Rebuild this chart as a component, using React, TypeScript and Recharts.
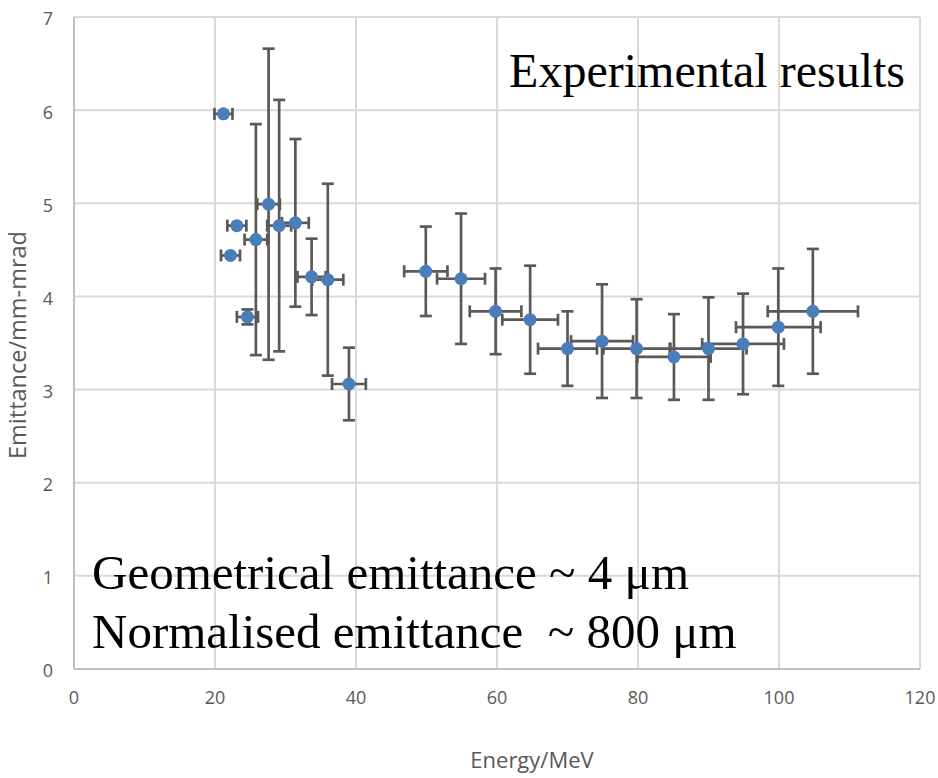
import { ScatterChart, Scatter, XAxis, YAxis, CartesianGrid, ErrorBar } from "recharts"

const energy = [21.2, 22.2, 23.1, 24.6, 25.8, 27.6, 29.1, 31.4, 33.7, 36.0, 39.0, 49.9, 54.9, 59.8, 64.7, 70.0, 74.9, 79.8, 85.1, 90.0, 94.9, 99.9, 104.8]
const emittance = [5.96, 4.44, 4.76, 3.78, 4.61, 4.99, 4.76, 4.79, 4.21, 4.18, 3.06, 4.27, 4.19, 3.84, 3.75, 3.44, 3.52, 3.44, 3.35, 3.44, 3.49, 3.67, 3.84]
const energyErr = [1.28, 1.35, 1.35, 1.5, 1.6, 1.6, 1.7, 1.9, 2.0, 2.2, 2.4, 3.07, 3.4, 3.66, 3.95, 4.18, 4.4, 4.7, 5.2, 5.4, 5.8, 6.0, 6.4]
const emittanceErr = [0, 0, 0, 0.08, 1.24, 1.67, 1.35, 0.9, 0.41, 1.03, 0.39, 0.48, 0.7, 0.46, 0.58, 0.4, 0.61, 0.53, 0.46, 0.55, 0.54, 0.63, 0.67]

const xTicks = [0, 20, 40, 60, 80, 100, 120]
const yTicks = [0, 1, 2, 3, 4, 5, 6, 7]

const data = energy.map((e, i) => ({
  energy: e,
  emittance: emittance[i],
  xErr: energyErr[i],
  yErr: emittanceErr[i],
}))

const sans = "'Open Sans', sans-serif"
const serif = "'Liberation Serif', 'DejaVu Serif', serif"
const tickStyle = { fontFamily: sans, fontSize: 18, fill: "#595959" }

export default function App() {
  return (
    <div style={{ position: "absolute", left: 0, top: 0, width: 938, height: 778, background: "#fff" }}>
      <ScatterChart width={938} height={778} margin={{ top: 17, right: 18, left: 0, bottom: 0 }}>
        <CartesianGrid stroke="#d9d9d9" strokeWidth={2} />
        <XAxis
          type="number"
          dataKey="energy"
          domain={[0, 120]}
          ticks={xTicks}
          height={109}
          tickLine={false}
          tickSize={0}
          tickMargin={22}
          axisLine={{ stroke: "#bfbfbf", strokeWidth: 2 }}
          tick={tickStyle}
        />
        <YAxis
          type="number"
          dataKey="emittance"
          domain={[0, 7]}
          ticks={yTicks}
          width={74}
          tickLine={false}
          tickSize={0}
          tickMargin={21}
          axisLine={{ stroke: "#bfbfbf", strokeWidth: 2 }}
          tick={{ ...tickStyle, dy: 2 }}
        />
        <Scatter
          data={data}
          fill="#4a7ebb"
          shape={(p: any) => <circle cx={p.cx} cy={p.cy} r={6.5} fill="#4a7ebb" />}
          isAnimationActive={false}
        >
          <ErrorBar dataKey="xErr" direction="x" width={6} stroke="#595959" strokeWidth={2.7} />
          <ErrorBar dataKey="yErr" direction="y" width={6} stroke="#595959" strokeWidth={2.7} />
        </Scatter>
      </ScatterChart>
      <svg width={938} height={778} style={{ position: "absolute", left: 0, top: 0, pointerEvents: "none" }}>
        <text x={905} y={87} textAnchor="end" fontFamily={serif} fontSize={48} fill="#000">
          Experimental results
        </text>
        <text x={92} y={589} fontFamily={serif} fontSize={49} fill="#000">
          Geometrical emittance ~ 4 μm
        </text>
        <text x={92} y={648} fontFamily={serif} fontSize={49} fill="#000" style={{ whiteSpace: "pre" }}>
          Normalised emittance  ~ 800 μm
        </text>
        <text x={532} y={768} textAnchor="middle" fontFamily={sans} fontSize={22} fill="#595959">
          Energy/MeV
        </text>
        <text
          x={26}
          y={345}
          textAnchor="middle"
          transform="rotate(-90 26 345)"
          fontFamily={sans}
          fontSize={24}
          textLength={228}
          lengthAdjust="spacingAndGlyphs"
          fill="#595959"
        >
          Emittance/mm-mrad
        </text>
      </svg>
    </div>
  )
}
